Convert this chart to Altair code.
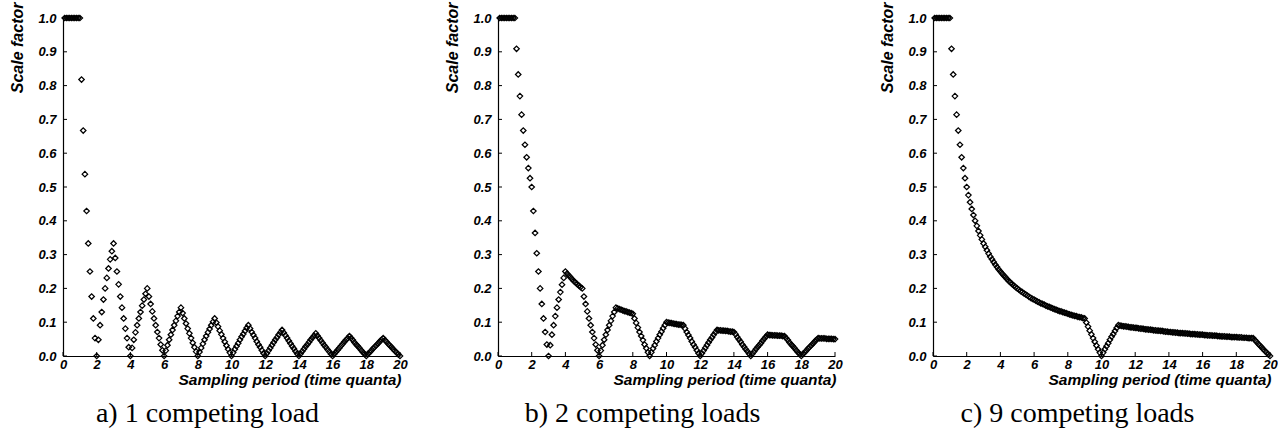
import altair as alt
import pandas as pd

# Sampling period (time quanta)
periods = [
    0.1, 0.2, 0.3, 0.4, 0.5, 0.6, 0.7, 0.8, 0.9, 1.0,
    1.1, 1.2, 1.3, 1.4, 1.5, 1.6, 1.7, 1.8, 1.9, 2.0,
    2.1, 2.2, 2.3, 2.4, 2.5, 2.6, 2.7, 2.8, 2.9, 3.0,
    3.1, 3.2, 3.3, 3.4, 3.5, 3.6, 3.7, 3.8, 3.9, 4.0,
    4.1, 4.2, 4.3, 4.4, 4.5, 4.6, 4.7, 4.8, 4.9, 5.0,
    5.1, 5.2, 5.3, 5.4, 5.5, 5.6, 5.7, 5.8, 5.9, 6.0,
    6.1, 6.2, 6.3, 6.4, 6.5, 6.6, 6.7, 6.8, 6.9, 7.0,
    7.1, 7.2, 7.3, 7.4, 7.5, 7.6, 7.7, 7.8, 7.9, 8.0,
    8.1, 8.2, 8.3, 8.4, 8.5, 8.6, 8.7, 8.8, 8.9, 9.0,
    9.1, 9.2, 9.3, 9.4, 9.5, 9.6, 9.7, 9.8, 9.9, 10.0,
    10.1, 10.2, 10.3, 10.4, 10.5, 10.6, 10.7, 10.8, 10.9, 11.0,
    11.1, 11.2, 11.3, 11.4, 11.5, 11.6, 11.7, 11.8, 11.9, 12.0,
    12.1, 12.2, 12.3, 12.4, 12.5, 12.6, 12.7, 12.8, 12.9, 13.0,
    13.1, 13.2, 13.3, 13.4, 13.5, 13.6, 13.7, 13.8, 13.9, 14.0,
    14.1, 14.2, 14.3, 14.4, 14.5, 14.6, 14.7, 14.8, 14.9, 15.0,
    15.1, 15.2, 15.3, 15.4, 15.5, 15.6, 15.7, 15.8, 15.9, 16.0,
    16.1, 16.2, 16.3, 16.4, 16.5, 16.6, 16.7, 16.8, 16.9, 17.0,
    17.1, 17.2, 17.3, 17.4, 17.5, 17.6, 17.7, 17.8, 17.9, 18.0,
    18.1, 18.2, 18.3, 18.4, 18.5, 18.6, 18.7, 18.8, 18.9, 19.0,
    19.1, 19.2, 19.3, 19.4, 19.5, 19.6, 19.7, 19.8, 19.9, 20.0,
]

# a) 1 competing load
scale_1 = [
    1, 1, 1, 1, 1, 1, 1, 1, 1, 1,
    0.818, 0.667, 0.538, 0.429, 0.333, 0.25, 0.176, 0.111, 0.053, 0,
    0.048, 0.091, 0.13, 0.167, 0.2, 0.231, 0.259, 0.286, 0.31, 0.333,
    0.29, 0.25, 0.212, 0.176, 0.143, 0.111, 0.081, 0.053, 0.026, 0,
    0.024, 0.048, 0.07, 0.091, 0.111, 0.13, 0.149, 0.167, 0.184, 0.2,
    0.176, 0.154, 0.132, 0.111, 0.091, 0.071, 0.053, 0.034, 0.017, 0,
    0.016, 0.032, 0.048, 0.063, 0.077, 0.091, 0.104, 0.118, 0.13, 0.143,
    0.127, 0.111, 0.096, 0.081, 0.067, 0.053, 0.039, 0.026, 0.013, 0,
    0.012, 0.024, 0.036, 0.048, 0.059, 0.07, 0.08, 0.091, 0.101, 0.111,
    0.099, 0.087, 0.075, 0.064, 0.053, 0.042, 0.031, 0.02, 0.01, 0,
    0.01, 0.02, 0.029, 0.038, 0.048, 0.057, 0.065, 0.074, 0.083, 0.091,
    0.081, 0.071, 0.062, 0.053, 0.043, 0.034, 0.026, 0.017, 0.008, 0,
    0.008, 0.016, 0.024, 0.032, 0.04, 0.048, 0.055, 0.063, 0.07, 0.077,
    0.069, 0.061, 0.053, 0.045, 0.037, 0.029, 0.022, 0.014, 0.007, 0,
    0.007, 0.014, 0.021, 0.028, 0.034, 0.041, 0.048, 0.054, 0.06, 0.067,
    0.06, 0.053, 0.046, 0.039, 0.032, 0.026, 0.019, 0.013, 0.006, 0,
    0.006, 0.012, 0.018, 0.024, 0.03, 0.036, 0.042, 0.048, 0.053, 0.059,
    0.053, 0.047, 0.04, 0.034, 0.029, 0.023, 0.017, 0.011, 0.006, 0,
    0.006, 0.011, 0.016, 0.022, 0.027, 0.032, 0.037, 0.043, 0.048, 0.053,
    0.047, 0.042, 0.036, 0.031, 0.026, 0.02, 0.015, 0.01, 0.005, 0,
]

# b) 2 competing loads
scale_2 = [
    1, 1, 1, 1, 1, 1, 1, 1, 1, 1,
    0.909, 0.833, 0.769, 0.714, 0.667, 0.625, 0.588, 0.556, 0.526, 0.5,
    0.429, 0.364, 0.304, 0.25, 0.2, 0.154, 0.111, 0.071, 0.034, 0,
    0.032, 0.063, 0.091, 0.118, 0.143, 0.167, 0.189, 0.211, 0.231, 0.25,
    0.244, 0.238, 0.233, 0.227, 0.222, 0.217, 0.213, 0.208, 0.204, 0.2,
    0.176, 0.154, 0.132, 0.111, 0.091, 0.071, 0.053, 0.034, 0.017, 0,
    0.016, 0.032, 0.048, 0.063, 0.077, 0.091, 0.104, 0.118, 0.13, 0.143,
    0.141, 0.139, 0.137, 0.135, 0.133, 0.132, 0.13, 0.128, 0.127, 0.125,
    0.111, 0.098, 0.084, 0.071, 0.059, 0.047, 0.034, 0.023, 0.011, 0,
    0.011, 0.022, 0.032, 0.043, 0.053, 0.063, 0.072, 0.082, 0.091, 0.1,
    0.099, 0.098, 0.097, 0.096, 0.095, 0.094, 0.093, 0.093, 0.092, 0.091,
    0.081, 0.071, 0.062, 0.053, 0.043, 0.034, 0.026, 0.017, 0.008, 0,
    0.008, 0.016, 0.024, 0.032, 0.04, 0.048, 0.055, 0.063, 0.07, 0.077,
    0.076, 0.076, 0.075, 0.075, 0.074, 0.074, 0.073, 0.072, 0.072, 0.071,
    0.064, 0.056, 0.049, 0.042, 0.034, 0.027, 0.02, 0.014, 0.007, 0,
    0.007, 0.013, 0.02, 0.026, 0.032, 0.038, 0.045, 0.051, 0.057, 0.063,
    0.062, 0.062, 0.061, 0.061, 0.061, 0.06, 0.06, 0.06, 0.059, 0.059,
    0.053, 0.047, 0.04, 0.034, 0.029, 0.023, 0.017, 0.011, 0.006, 0,
    0.006, 0.011, 0.016, 0.022, 0.027, 0.032, 0.037, 0.043, 0.048, 0.053,
    0.052, 0.052, 0.052, 0.052, 0.051, 0.051, 0.051, 0.051, 0.05, 0.05,
]

# c) 9 competing loads
scale_9 = [
    1, 1, 1, 1, 1, 1, 1, 1, 1, 1,
    0.909, 0.833, 0.769, 0.714, 0.667, 0.625, 0.588, 0.556, 0.526, 0.5,
    0.476, 0.455, 0.435, 0.417, 0.4, 0.385, 0.37, 0.357, 0.345, 0.333,
    0.323, 0.313, 0.303, 0.294, 0.286, 0.278, 0.27, 0.263, 0.256, 0.25,
    0.244, 0.238, 0.233, 0.227, 0.222, 0.217, 0.213, 0.208, 0.204, 0.2,
    0.196, 0.192, 0.189, 0.185, 0.182, 0.179, 0.175, 0.172, 0.169, 0.167,
    0.164, 0.161, 0.159, 0.156, 0.154, 0.152, 0.149, 0.147, 0.145, 0.143,
    0.141, 0.139, 0.137, 0.135, 0.133, 0.132, 0.13, 0.128, 0.127, 0.125,
    0.123, 0.122, 0.12, 0.119, 0.118, 0.116, 0.115, 0.114, 0.112, 0.111,
    0.099, 0.087, 0.075, 0.064, 0.053, 0.042, 0.031, 0.02, 0.01, 0,
    0.01, 0.02, 0.029, 0.038, 0.048, 0.057, 0.065, 0.074, 0.083, 0.091,
    0.09, 0.089, 0.088, 0.088, 0.087, 0.086, 0.085, 0.085, 0.084, 0.083,
    0.083, 0.082, 0.081, 0.081, 0.08, 0.079, 0.079, 0.078, 0.078, 0.077,
    0.076, 0.076, 0.075, 0.075, 0.074, 0.074, 0.073, 0.072, 0.072, 0.071,
    0.071, 0.07, 0.07, 0.069, 0.069, 0.068, 0.068, 0.068, 0.067, 0.067,
    0.066, 0.066, 0.065, 0.065, 0.065, 0.064, 0.064, 0.063, 0.063, 0.063,
    0.062, 0.062, 0.061, 0.061, 0.061, 0.06, 0.06, 0.06, 0.059, 0.059,
    0.058, 0.058, 0.058, 0.057, 0.057, 0.057, 0.056, 0.056, 0.056, 0.056,
    0.055, 0.055, 0.055, 0.054, 0.054, 0.054, 0.053, 0.053, 0.053, 0.053,
    0.047, 0.042, 0.036, 0.031, 0.026, 0.02, 0.015, 0.01, 0.005, 0,
]

x_ticks = [0, 2, 4, 6, 8, 10, 12, 14, 16, 18, 20]
y_ticks = [0.0, 0.1, 0.2, 0.3, 0.4, 0.5, 0.6, 0.7, 0.8, 0.9, 1.0]
captions = ["a) 1 competing load", "b) 2 competing loads", "c) 9 competing loads"]

W = 337
H = 338
SANS = "Liberation Sans"
SERIF = "Liberation Serif"

XS = alt.Scale(domain=[0, 20], nice=False, zero=False)
YS = alt.Scale(domain=[0, 1], nice=False, zero=False)

X_AXIS = alt.Axis(
    values=x_ticks, format="d", ticks=False, grid=False,
    domainColor="black", domainWidth=1.2,
    labelFont=SANS, labelFontSize=13, labelFontWeight="bold",
    labelFontStyle="italic", labelColor="black", labelPadding=2,
    labelFlush=False, labelOverlap=False,
    title="Sampling period (time quanta)", titleFont=SANS,
    titleFontSize=15.5, titleFontWeight="bold", titleFontStyle="italic",
    titleColor="black", titleAnchor="end", titleAlign="right",
    titleBaseline="middle", titleX=W + 1, titleY=23,
)
Y_AXIS = alt.Axis(
    values=y_ticks, format=".1f", ticks=False, grid=False,
    domainColor="black", domainWidth=1.2,
    labelFont=SANS, labelFontSize=13, labelFontWeight="bold",
    labelFontStyle="italic", labelColor="black", labelPadding=7,
    labelFlush=False, labelOverlap=False,
    title="Scale factor", titleFont=SANS, titleFontSize=16,
    titleFontWeight="bold", titleFontStyle="italic", titleColor="black",
    titleAngle=270, titleAlign="right", titleBaseline="middle",
    titleX=-46, titleY=-16,
)


def panel(values, caption):
    df = pd.DataFrame({"period": periods, "scale": values})
    pts = alt.Chart(df).mark_point(
        shape="diamond", filled=False, color="black", size=30, strokeWidth=1.25, opacity=1
    ).encode(
        x=alt.X("period:Q", scale=XS, axis=X_AXIS),
        y=alt.Y("scale:Q", scale=YS, axis=Y_AXIS),
    )
    ytk = alt.Chart(pd.DataFrame({"scale": y_ticks})).mark_rule(
        color="black", strokeWidth=1
    ).encode(y=alt.Y("scale:Q", scale=YS, axis=Y_AXIS), x=alt.value(0), x2=alt.value(4))
    xtk = alt.Chart(pd.DataFrame({"period": x_ticks})).mark_rule(
        color="black", strokeWidth=1
    ).encode(x=alt.X("period:Q", scale=XS, axis=X_AXIS), y=alt.value(H), y2=alt.value(H - 4))
    return alt.layer(pts, ytk, xtk).properties(
        width=W, height=H,
        title=alt.TitleParams(
            caption, orient="bottom", anchor="middle", font=SERIF, fontSize=28,
            fontWeight="normal", color="black", dx=-24, offset=12,
        ),
    )


chart = alt.hconcat(
    panel(scale_1, captions[0]),
    panel(scale_2, captions[1]),
    panel(scale_9, captions[2]),
    spacing=98, bounds="flush",
).properties(
    padding={"left": 9, "top": 2, "right": 0, "bottom": 0},
    background="white",
).configure_view(stroke=None)

chart.save("out.html", embed_options={"renderer": "svg", "actions": False})
